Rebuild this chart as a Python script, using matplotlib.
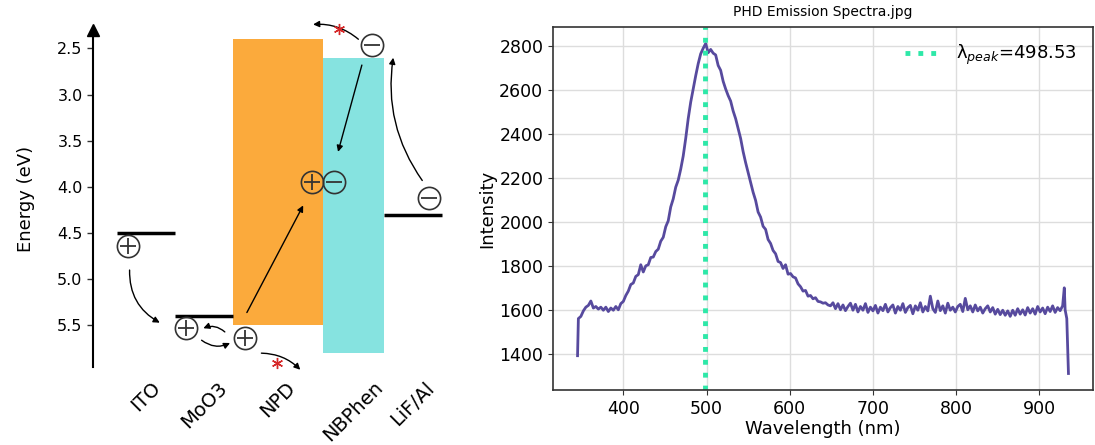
import numpy as np
import matplotlib.pyplot as plt
import matplotlib.transforms as mtransforms

# ==============================
# left panel: energy level diagram
# ==============================
layers = ["ITO", "MoO3", "NPD", "NBPhen", "LiF/Al"]
layer_left = [0.0, 1.0, 2.0, 3.55, 4.6]
layer_right = [1.0, 2.0, 3.55, 4.6, 5.6]

# electrodes -> single level lines (eV)
level_idx = [0, 1, 4]
level_E = [4.5, 5.4, 4.3]

# organics -> LUMO / HOMO boxes (eV)
band_idx = [2, 3]
band_lumo = [2.4, 2.6]
band_homo = [5.5, 5.8]
band_colors = ["#fbaa3c", "#86e3e0"]

# carriers
hole_x = [0.19, 1.19, 2.2, 3.36]
hole_E = [4.64, 5.53, 5.64, 3.95]
elec_x = [3.74, 4.4, 5.38]
elec_E = [3.95, 2.46, 4.12]

# arrows: x0, E0, x1, E1, curvature
arrows = [
    (0.22, 4.90, 0.74, 5.47, 0.3),
    (1.86, 5.57, 1.49, 5.53, 0.3),
    (1.46, 5.66, 1.95, 5.69, 0.3),
    (2.24, 5.36, 3.21, 4.20, 0.0),
    (2.49, 5.80, 3.16, 5.98, -0.2),
    (4.22, 2.68, 3.81, 3.62, 0.0),
    (4.16, 2.40, 3.38, 2.24, 0.2),
    (5.26, 3.93, 4.76, 2.60, -0.2),
]
blocked_x = [2.75, 3.82]
blocked_E = [5.91, 2.29]

energy_ticks = [2.5, 3.0, 3.5, 4.0, 4.5, 5.0, 5.5]

# ==============================
# right panel: emission spectrum
# ==============================
wl_head = [345, 346]
int_head = [1391, 1560]
wl_body = np.arange(349, 929, 3)
int_body = [
    1570, 1595, 1612, 1620, 1640, 1608, 1615, 1603, 1612, 1598,
    1612, 1592, 1608, 1598, 1615, 1600, 1628, 1638, 1665, 1685,
    1715, 1722, 1752, 1760, 1805, 1772, 1800, 1805, 1838, 1840,
    1865, 1876, 1912, 1930, 1978, 2005, 2068, 2105, 2158, 2190,
    2240, 2300, 2380, 2470, 2545, 2605, 2665, 2720, 2765, 2790,
    2812, 2770, 2785, 2768, 2760, 2712, 2690, 2640, 2605, 2575,
    2550, 2505, 2470, 2425, 2380, 2320, 2270, 2225, 2180, 2135,
    2098, 2045, 2022, 1980, 1966, 1920, 1902, 1870, 1855, 1820,
    1815, 1788, 1805, 1762, 1765, 1750, 1745, 1718, 1705, 1685,
    1688, 1662, 1665, 1650, 1655, 1638, 1636, 1630, 1632, 1622,
    1618, 1632, 1605, 1628, 1600, 1622, 1596, 1615, 1630, 1598,
    1625, 1590, 1615, 1598, 1628, 1588, 1612, 1595, 1620, 1585,
    1612, 1596, 1625, 1590, 1610, 1622, 1585, 1615, 1598, 1628,
    1588, 1610, 1620, 1582, 1618, 1598, 1632, 1590, 1615, 1595,
    1662, 1605, 1588, 1640, 1596, 1618, 1585, 1630, 1598, 1612,
    1590, 1615, 1625, 1592, 1652, 1600, 1618, 1590, 1622, 1595,
    1612, 1585, 1605, 1618, 1590, 1610, 1580, 1602, 1578, 1598,
    1575, 1595, 1570, 1598, 1575, 1605, 1580, 1600, 1576, 1610,
    1585, 1605, 1580, 1615, 1590, 1608, 1582, 1612, 1592, 1618,
    1588, 1610, 1596, 1618,
]
wl_tail = [930, 931, 933, 935]
int_tail = [1700, 1600, 1560, 1310]

wavelength = np.concatenate([wl_head, wl_body, wl_tail])
intensity = np.concatenate([int_head, int_body, int_tail])
peak_wl = 498.53

# ==============================
# figure
# ==============================
fig = plt.figure(figsize=(10.95, 4.45), dpi=100)

ax = fig.add_axes([93 / 1095, 78 / 445, 367 / 1095, 337 / 445])

for i, lumo, homo, c in zip(band_idx, band_lumo, band_homo, band_colors):
    ax.bar(layer_left[i], homo - lumo, bottom=lumo,
           width=layer_right[i] - layer_left[i], align="edge", color=c, zorder=1)

ax.hlines(level_E, [layer_left[i] for i in level_idx],
          [layer_right[i] for i in level_idx], colors="k", lw=2.5, zorder=2)

for x0, e0, x1, e1, rad in arrows:
    ax.annotate("", xy=(x1, e1), xytext=(x0, e0),
                arrowprops=dict(arrowstyle="-|>", color="k", lw=1,
                                mutation_scale=9, shrinkA=0, shrinkB=0,
                                connectionstyle=f"arc3,rad={rad}"),
                annotation_clip=False, zorder=3)

ax.plot(blocked_x, blocked_E, ls="none", marker=(6, 2, 0), ms=8,
        mew=1.0, color="#d62728", clip_on=False, zorder=4)

ax.plot(hole_x, hole_E, ls="none", marker="o", ms=16, mfc="none",
        mec="#333333", mew=1.2, clip_on=False, zorder=4)
ax.plot(hole_x, hole_E, ls="none", marker="+", ms=11, mew=1.3,
        color="#333333", clip_on=False, zorder=4)
ax.plot(elec_x, elec_E, ls="none", marker="o", ms=16, mfc="none",
        mec="#333333", mew=1.2, clip_on=False, zorder=4)
ax.plot(elec_x, elec_E, ls="none", marker="_", ms=11, mew=1.3,
        color="#333333", clip_on=False, zorder=4)

ax.set_xlim(-0.41, 5.91)
ax.set_ylim(5.95, 2.3)
ax.set_yticks(energy_ticks)
ax.set_yticklabels([f"{v:.1f}" for v in energy_ticks])
centers = [(l + r) / 2 for l, r in zip(layer_left, layer_right)]
ax.set_xticks(centers)
ax.set_xticklabels(layers, rotation=45, ha="center", fontsize=14)
shift = mtransforms.ScaledTranslation(-5 / 72, 0, fig.dpi_scale_trans)
for lab in ax.get_xticklabels():
    lab.set_transform(lab.get_transform() + shift)
ax.tick_params(axis="x", length=0, pad=8)
ax.tick_params(axis="y", labelsize=11.5, length=4, width=1, color="#333333")
for s in ["top", "right", "bottom"]:
    ax.spines[s].set_visible(False)
ax.spines["left"].set_linewidth(1.5)
ax.plot(0, 1, marker="^", ms=9, color="k", transform=ax.transAxes,
        clip_on=False)
ax.set_ylabel("Energy (eV)", fontsize=13, labelpad=16)

# right panel
ax2 = fig.add_axes([553 / 1095, 55 / 445, 540 / 1095, 363 / 445])
ax2.plot(wavelength, intensity, color="#574a9e", lw=2)
ax2.axvline(peak_wl, color="#2ee8a8", ls=":", lw=3.5,
            label="λ$_{peak}$=" + f"{peak_wl:.2f}")
ax2.set_xticks([400, 500, 600, 700, 800, 900])
ax2.set_yticks([1400, 1600, 1800, 2000, 2200, 2400, 2600, 2800])
ax2.grid(True, color="#dddddd", lw=1)
ax2.set_axisbelow(True)
ax2.tick_params(labelsize=12.5, color="#333333")
for s in ax2.spines.values():
    s.set_color("#333333")
    s.set_linewidth(1.2)
ax2.set_xlabel("Wavelength (nm)", fontsize=13, labelpad=2)
ax2.set_ylabel("Intensity", fontsize=13, labelpad=2)
ax2.set_title("PHD Emission Spectra.jpg", fontsize=10, pad=8)
ax2.legend(loc="upper right", frameon=False, fontsize=13, handlelength=2)

fig.savefig("out.png", dpi=100)
